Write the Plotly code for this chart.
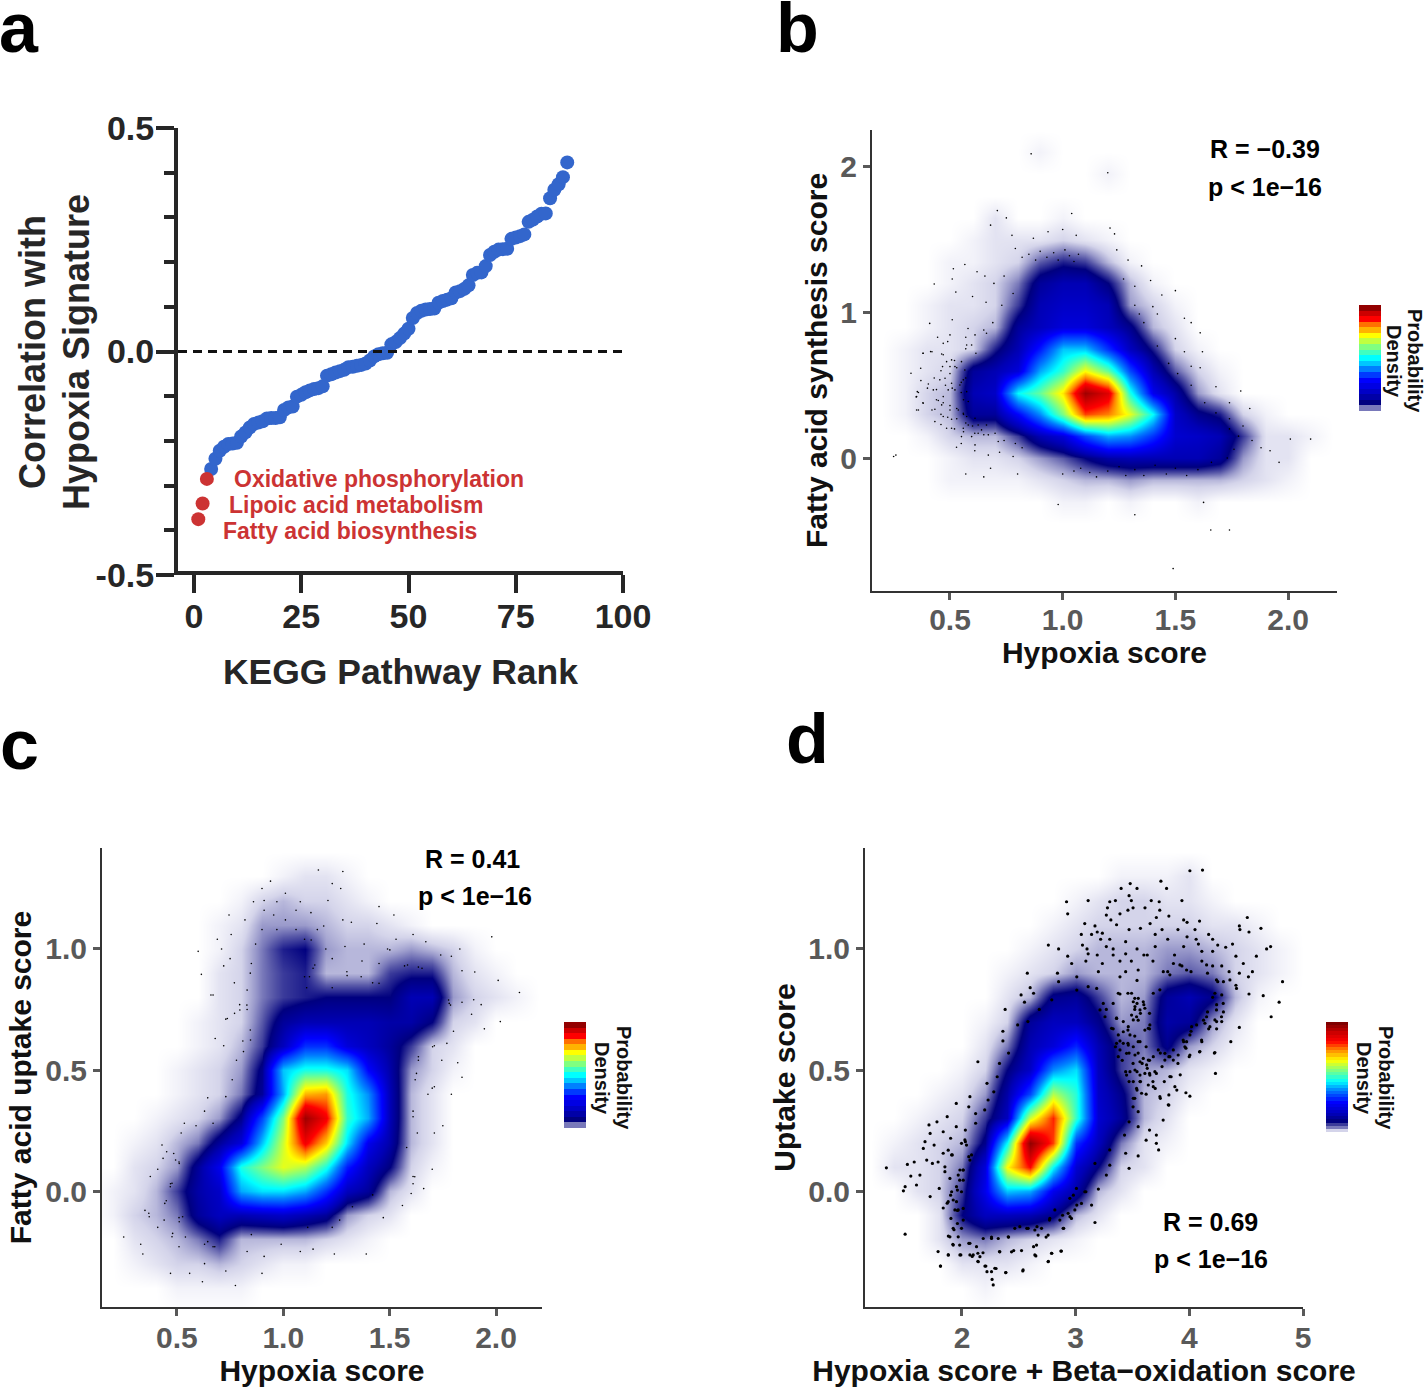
import plotly.graph_objects as go

W, H = 1427, 1387
FONT = "Liberation Sans"

# --------------------
# Panel a: pathway ranking
# --------------------
low_rank = [1, 2, 3]
low_corr = [-0.375, -0.34, -0.285]
rank = list(range(4, 88))
corr = [-0.263, -0.24, -0.222, -0.213, -0.207, -0.206, -0.204, -0.19, -0.181, -0.17, -0.162, -0.159,
        -0.156, -0.15, -0.149, -0.149, -0.147, -0.131, -0.125, -0.123, -0.101, -0.097, -0.091, -0.087,
        -0.084, -0.082, -0.078, -0.054, -0.051, -0.047, -0.044, -0.041, -0.035, -0.034, -0.032, -0.03,
        -0.027, -0.02, -0.011, -0.006, -0.004, -0.003, 0.016, 0.021, 0.03, 0.04, 0.051, 0.075, 0.086,
        0.091, 0.094, 0.095, 0.096, 0.109, 0.113, 0.116, 0.119, 0.132, 0.135, 0.14, 0.148, 0.171, 0.176,
        0.177, 0.191, 0.216, 0.223, 0.228, 0.229, 0.23, 0.252, 0.255, 0.258, 0.262, 0.29, 0.295, 0.302,
        0.308, 0.309, 0.343, 0.362, 0.374, 0.39, 0.423]
low_names = ["Fatty acid biosynthesis", "Lipoic acid metabolism", "Oxidative phosphorylation"]

# --------------------
# Panel b: density grid and stray cells
# --------------------
b_x = [0.2, 0.3, 0.4, 0.5, 0.6, 0.7, 0.8, 0.9, 1.0, 1.1, 1.2, 1.3, 1.4, 1.5, 1.6, 1.7, 1.8, 1.9, 2.0, 2.1]
b_y = [-0.6, -0.45, -0.3, -0.15, 0, 0.15, 0.3, 0.45, 0.6, 0.75, 0.9, 1.05, 1.2, 1.35, 1.5, 1.65, 1.8, 1.95, 2.1]
# rows run from the top of the plot down
b_density = [
    [0, 0, 0, 0, 0, 0, 0, 1, 0, 0, 0, 0, 0, 0, 0, 0, 0, 0, 0, 0],
    [0, 0, 0, 0, 0, 0, 0, 0, 0, 0, 1, 0, 0, 0, 0, 0, 0, 0, 0, 0],
    [0, 0, 0, 0, 0, 0, 0, 0, 0, 0, 0, 0, 0, 0, 0, 0, 0, 0, 0, 0],
    [0, 0, 0, 0, 0, 2, 0, 0, 1, 0, 0, 0, 0, 0, 0, 0, 0, 0, 0, 0],
    [0, 0, 0, 0, 1, 2, 2, 2, 3, 2, 1, 0, 0, 0, 0, 0, 0, 0, 0, 0],
    [0, 0, 0, 1, 1, 2, 3, 7, 9, 8, 4, 1, 0, 0, 0, 0, 0, 0, 0, 0],
    [0, 0, 0, 1, 2, 3, 6, 12, 14, 14, 10, 4, 1, 0, 0, 0, 0, 0, 0, 0],
    [0, 0, 1, 2, 2, 3, 8, 14, 16, 16, 14, 5, 3, 1, 0, 0, 0, 0, 0, 0],
    [0, 0, 1, 2, 3, 4, 12, 15, 18, 18, 15, 11, 4, 2, 0, 0, 0, 0, 0, 0],
    [0, 1, 2, 2, 3, 9, 14, 24, 38, 38, 26, 15, 9, 3, 1, 0, 0, 0, 0, 0],
    [0, 1, 2, 3, 12, 14, 18, 36, 46, 62, 50, 28, 14, 7, 3, 1, 0, 0, 0, 0],
    [0, 1, 3, 4, 14, 16, 42, 50, 64, 95, 85, 44, 20, 13, 5, 2, 0, 0, 0, 0],
    [0, 1, 3, 4, 12, 12, 22, 34, 52, 76, 72, 60, 42, 16, 11, 9, 3, 1, 0, 0],
    [0, 0, 1, 3, 4, 4, 8, 14, 18, 28, 36, 34, 26, 17, 16, 14, 8, 2, 2, 1],
    [0, 0, 0, 1, 2, 2, 3, 5, 7, 10, 13, 14, 14, 14, 14, 12, 5, 2, 2, 0],
    [0, 0, 0, 1, 1, 1, 1, 2, 3, 4, 4, 5, 4, 4, 4, 4, 3, 2, 1, 0],
    [0, 0, 0, 0, 0, 0, 0, 0, 1, 1, 0, 1, 0, 0, 1, 0, 0, 0, 0, 0],
    [0, 0, 0, 0, 0, 0, 0, 0, 0, 0, 0, 0, 0, 0, 0, 0, 0, 0, 0, 0],
    [0, 0, 0, 0, 0, 0, 0, 0, 0, 0, 0, 0, 0, 0, 0, 0, 0, 0, 0, 0],
]
b_dots_x = [0.86, 1.2, 0.71, 0.75, 0.68, 1.04, 1.21, 1.23, 0.775, 1.0, 1.06, 0.87, 0.935, 1.24, 0.79, 0.82, 0.85,
            0.88, 0.9, 0.93, 0.96, 0.98, 1.01, 1.03, 1.05, 1.07, 0.43, 0.515, 0.566, 0.51, 0.62, 0.655, 0.695,
            0.74, 0.526, 0.6, 0.66, 0.73, 0.78, 0.51, 0.58, 0.65, 0.69, 0.41, 0.445, 0.49, 0.57, 0.38, 0.42,
            0.47, 0.52, 0.57, 0.615, 0.43, 0.46, 0.5, 0.53, 0.55, 0.57, 0.36, 0.4, 0.44, 0.48, 0.51, 0.55, 0.56,
            0.35, 0.38, 0.44, 0.47, 0.5, 0.53, 0.56, 0.36, 0.42, 0.46, 0.49, 0.53, 0.57, 0.6, 0.46, 0.52, 0.56,
            0.61, 0.65, 0.7, 0.74, 0.79, 0.82, 0.55, 0.61, 0.67, 0.72, 0.78, 0.25, 0.26, 0.57, 0.65, 0.68, 0.8,
            1.0, 1.05, 1.08, 1.12, 1.15, 1.2, 1.25, 1.28, 1.32, 1.36, 1.41, 1.46, 1.5, 1.55, 1.6, 1.66, 1.73,
            1.76, 1.78, 1.74, 1.8, 1.84, 1.88, 1.92, 1.96, 2.01, 2.1, 0.98, 1.32, 1.625, 1.657, 1.74, 1.49, 1.29,
            1.35, 1.27, 1.32, 1.39, 1.44, 1.5, 1.32, 1.4, 1.34, 1.42, 1.36, 1.54, 1.57, 1.61, 1.42, 1.5, 1.54,
            1.62, 1.47, 1.57, 1.61, 1.51, 1.57, 1.68, 1.63, 1.79, 1.74, 1.83, 1.68, 1.74,
            0.327, 0.381, 0.414, 0.463, 0.485, 0.507, 0.522, 0.551, 0.566, 0.5, 0.467, 0.455, 0.478, 0.37, 0.371,
            0.404, 0.426, 0.355, 0.352, 0.507, 0.544, 0.559, 0.574, 0.522, 0.492, 0.47, 0.448, 0.463, 0.433, 0.352,
            0.381, 0.5, 0.537, 0.559, 0.581, 0.574, 0.47, 0.433, 0.507, 0.485, 0.507, 0.559, 0.581, 0.611, 0.625,
            0.64, 0.662, 0.596, 0.551, 0.625, 0.67, 0.529, 0.611, 0.714, 0.47, 0.5, 0.574, 0.611, 0.662, 0.596]
b_dots_y = [2.09, 1.96, 1.7, 1.65, 1.6, 1.68, 1.58, 1.54, 1.53, 1.57, 1.53, 1.51, 1.555, 1.43, 1.44, 1.38, 1.4,
            1.36, 1.42, 1.38, 1.41, 1.36, 1.43, 1.39, 1.35, 1.4, 1.196, 1.3, 1.33, 1.23, 1.28, 1.25, 1.2, 1.25,
            1.14, 1.11, 1.07, 1.05, 1.13, 0.95, 0.89, 0.88, 0.93, 0.925, 0.83, 0.8, 0.83, 0.72, 0.73, 0.71,
            0.67, 0.75, 0.72, 0.55, 0.6, 0.58, 0.62, 0.52, 0.55, 0.45, 0.48, 0.47, 0.5, 0.48, 0.45, 0.4, 0.42,
            0.38, 0.4, 0.38, 0.36, 0.34, 0.3, 0.33, 0.33, 0.3, 0.28, 0.27, 0.24, 0.22, 0.23, 0.2, 0.18, 0.17,
            0.16, 0.17, 0.12, 0.1, 0.07, 0.1, 0.05, 0.02, 0.04, 0.01, 0.01, 0.02, -0.11, -0.13, -0.07, -0.11,
            -0.11, -0.09, -0.07, -0.1, -0.13, -0.09, -0.06, -0.12, -0.08, -0.12, -0.05, -0.11, -0.07, -0.12,
            -0.08, -0.03, 0.0, 0.06, 0.15, 0.2, 0.22, 0.12, 0.07, 0.05, -0.03, 0.13, 0.13, -0.32, -0.39, -0.305,
            -0.495, -0.495, -0.76, 1.36, 1.32, 1.23, 1.18, 1.22, 1.12, 1.15, 1.05, 1.04, 0.99, 0.99, 0.93, 0.96,
            0.93, 0.86, 0.77, 0.82, 0.73, 0.73, 0.65, 0.63, 0.62, 0.58, 0.5, 0.49, 0.38, 0.46, 0.38, 0.34, 0.31,
            0.27,
            0.582, 0.72, 0.731, 0.715, 0.662, 0.674, 0.628, 0.662, 0.605, 0.628, 0.628, 0.537, 0.548, 0.617, 0.532,
            0.509, 0.468, 0.456, 0.422, 0.514, 0.502, 0.537, 0.456, 0.468, 0.468, 0.422, 0.395, 0.365, 0.335, 0.33,
            0.376, 0.33, 0.33, 0.307, 0.388, 0.285, 0.285, 0.25, 0.266, 0.204, 0.204, 0.204, 0.227, 0.273, 0.227,
            0.193, 0.227, 0.147, 0.147, 0.17, 0.159, 0.074, 0.09, 0.113, 0.788, 0.846, 0.777, 0.846, 0.857, 0.777]

# --------------------
# Panel c
# --------------------
c_x = [0.2, 0.3, 0.4, 0.5, 0.6, 0.7, 0.8, 0.9, 1.0, 1.1, 1.2, 1.3, 1.4, 1.5, 1.6, 1.7, 1.8, 1.9, 2.0, 2.1]
c_y = [-0.4, -0.3, -0.2, -0.1, 0, 0.1, 0.2, 0.3, 0.4, 0.5, 0.6, 0.7, 0.8, 0.9, 1.0, 1.1, 1.2, 1.3]
c_density = [
    [0, 0, 0, 0, 0, 0, 0, 0, 1, 2, 2, 1, 0, 0, 0, 0, 0, 0, 0, 0],
    [0, 0, 0, 0, 0, 0, 1, 3, 4, 3, 3, 2, 1, 0, 0, 0, 0, 0, 0, 0],
    [0, 0, 0, 0, 0, 1, 2, 5, 5, 5, 4, 3, 3, 2, 1, 0, 0, 0, 0, 0],
    [0, 0, 0, 0, 0, 1, 3, 6, 9, 10, 5, 4, 4, 4, 5, 4, 3, 1, 0, 0],
    [0, 0, 0, 0, 0, 2, 3, 6, 8, 9, 4, 4, 4, 8, 9, 9, 4, 2, 1, 0],
    [0, 0, 0, 0, 0, 2, 3, 6, 8, 9, 10, 10, 10, 10, 14, 14, 5, 3, 2, 1],
    [0, 0, 0, 0, 1, 2, 3, 7, 12, 14, 14, 14, 14, 13, 13, 10, 3, 2, 0, 0],
    [0, 0, 0, 0, 1, 2, 4, 8, 15, 26, 26, 18, 15, 12, 8, 3, 2, 0, 0, 0],
    [0, 0, 0, 1, 2, 3, 5, 11, 38, 44, 44, 40, 22, 13, 5, 3, 1, 0, 0, 0],
    [0, 0, 0, 1, 2, 3, 6, 12, 36, 68, 70, 44, 34, 14, 4, 2, 0, 0, 0, 0],
    [0, 0, 1, 2, 3, 5, 11, 28, 52, 95, 82, 46, 36, 14, 4, 2, 0, 0, 0, 0],
    [0, 1, 2, 4, 6, 12, 18, 38, 58, 82, 66, 40, 20, 13, 4, 2, 0, 0, 0, 0],
    [0, 2, 3, 5, 12, 20, 44, 52, 60, 56, 44, 24, 15, 10, 3, 1, 0, 0, 0, 0],
    [1, 2, 4, 8, 13, 16, 36, 40, 40, 36, 26, 15, 12, 4, 2, 0, 0, 0, 0, 0],
    [1, 3, 4, 6, 12, 15, 14, 15, 16, 14, 12, 5, 3, 2, 0, 0, 0, 0, 0, 0],
    [0, 2, 3, 4, 6, 9, 4, 4, 4, 4, 3, 2, 1, 0, 0, 0, 0, 0, 0, 0],
    [0, 1, 2, 3, 3, 4, 3, 2, 1, 1, 0, 0, 0, 0, 0, 0, 0, 0, 0, 0],
    [0, 0, 0, 1, 1, 1, 1, 0, 0, 0, 0, 0, 0, 0, 0, 0, 0, 0, 0, 0],
]
c_dots_x = [1.165, 1.28, 0.94, 1.23, 1.27, 0.9, 1.01, 1.21, 0.97, 0.91, 0.86, 1.08, 1.13, 1.06, 1.45, 0.91, 0.955,
            0.745, 0.82, 1.01, 1.28, 1.32, 1.52, 1.44, 0.9, 0.97, 1.06, 1.16, 1.19, 1.67, 1.61, 1.98, 1.83, 0.69,
            0.755, 0.6, 0.71, 0.87, 1.1, 1.2, 1.29, 1.38, 1.49, 1.53, 1.74, 1.79, 0.75, 0.85, 0.72, 0.615, 1.14,
            1.23, 1.37, 1.45, 1.57, 1.635, 1.84, 1.9, 0.845, 0.77, 1.1, 1.3, 1.42, 0.66, 0.83, 1.11, 1.23, 1.78,
            1.84, 1.895, 2.01, 2.11, 1.93, 0.795, 0.83, 1.885, 2.02, 1.945, 0.73, 0.68, 0.81, 0.845, 1.8, 1.71,
            0.72, 0.78, 1.635, 1.745, 1.82, 1.84, 0.76, 0.73, 0.645, 1.7, 1.62, 1.68, 1.79, 1.61, 1.75, 0.63, 0.67,
            0.59, 0.535, 0.52, 1.63, 1.71, 1.58, 0.43, 0.485, 0.51, 0.435, 0.41, 1.61, 1.7, 1.66, 1.61, 0.47,
            0.375, 0.45, 0.35, 0.37, 0.44, 0.51, 0.25, 0.33, 0.34, 0.41, 0.48, 0.54, 0.51, 0.63, 0.67, 0.47, 0.62,
            0.56, 0.775, 0.73, 0.9, 0.63, 0.83, 0.91, 0.99, 0.85, 1.115, 1.23, 1.14, 1.08, 1.24, 1.39, 1.265,
            1.325, 1.42, 1.56, 1.47,
            0.829, 0.796, 0.846, 0.813, 0.771, 0.737, 0.67, 0.511, 0.494, 0.452, 0.477, 0.469, 0.368, 0.443, 0.527,
            0.511, 0.477, 0.645, 0.678, 1.635, 1.702, 1.769, 1.626, 1.71, 1.61, 1.618, 1.601, 1.131, 1.148, 1.123,
            1.299, 1.366, 1.45, 1.501, 1.584, 1.652, 1.777, 1.786]
c_dots_y = [1.326, 1.32, 1.28, 1.27, 1.25, 1.25, 1.23, 1.2, 1.195, 1.2, 1.195, 1.195, 1.15, 1.16, 1.175, 1.16, 1.14,
            1.14, 1.12, 1.12, 1.12, 1.11, 1.14, 1.105, 1.08, 1.08, 1.08, 1.08, 1.095, 1.03, 1.06, 1.05, 1.0, 1.04,
            1.06, 0.99, 1.0, 1.02, 1.04, 1.0, 1.01, 1.02, 1.0, 1.04, 0.975, 0.97, 0.96, 0.94, 0.93, 0.895, 0.92,
            0.96, 0.95, 0.94, 0.93, 0.925, 0.91, 0.905, 0.9, 0.86, 0.885, 0.89, 0.86, 0.81, 0.83, 0.84, 0.84,
            0.775, 0.78, 0.79, 0.87, 0.82, 0.77, 0.77, 0.75, 0.73, 0.7, 0.67, 0.71, 0.63, 0.62, 0.665, 0.66, 0.6,
            0.6, 0.54, 0.54, 0.54, 0.53, 0.47, 0.46, 0.39, 0.385, 0.425, 0.46, 0.4, 0.4, 0.33, 0.27, 0.33, 0.28,
            0.27, 0.28, 0.24, 0.24, 0.24, 0.18, 0.19, 0.155, 0.12, 0.135, 0.09, 0.06, 0.09, 0.01, 0.03, 0.03,
            0.06, -0.04, -0.08, -0.106, -0.12, -0.11, -0.19, -0.22, -0.26, -0.15, -0.175, -0.19, -0.23, -0.22,
            -0.23, -0.34, -0.375, -0.34, -0.39, -0.33, -0.34, -0.3, -0.25, -0.27, -0.22, -0.18, -0.15, -0.15,
            -0.24, -0.25, -0.26, -0.26, -0.12, -0.065, -0.016, -0.06, -0.11,
            0.768, 0.748, 0.624, 0.576, 0.734, 0.713, 0.81, 0.114, 0.128, 0.162, 0.032, 0.018, -0.092, -0.051, -0.106,
            -0.127, -0.189, -0.209, -0.23, 0.555, 0.596, 0.61, 0.486, 0.431, 0.307, 0.059, -0.01, 1.037, 0.934, 0.885,
            0.906, 0.885, 0.858, 0.996, 0.934, 0.92, 0.789, 0.768]

# --------------------
# Panel d
# --------------------
d_x = [1.4, 1.6, 1.8, 2.0, 2.2, 2.4, 2.6, 2.8, 3.0, 3.2, 3.4, 3.6, 3.8, 4.0, 4.2, 4.4, 4.6, 4.8]
d_y = [-0.4, -0.3, -0.2, -0.1, 0, 0.1, 0.2, 0.3, 0.4, 0.5, 0.6, 0.7, 0.8, 0.9, 1.0, 1.1, 1.2, 1.3]
d_density = [
    [0, 0, 0, 0, 0, 0, 0, 0, 0, 0, 1, 1, 1, 2, 0, 0, 0, 0],
    [0, 0, 0, 0, 0, 0, 0, 0, 1, 2, 3, 3, 2, 2, 1, 0, 0, 0],
    [0, 0, 0, 0, 0, 0, 0, 1, 2, 3, 3, 3, 3, 3, 2, 2, 1, 0],
    [0, 0, 0, 0, 0, 0, 1, 2, 3, 4, 4, 4, 5, 5, 4, 3, 2, 1],
    [0, 0, 0, 0, 0, 1, 2, 3, 5, 4, 4, 4, 6, 7, 6, 3, 2, 1],
    [0, 0, 0, 0, 0, 2, 4, 11, 12, 8, 4, 5, 12, 14, 11, 4, 1, 0],
    [0, 0, 0, 0, 1, 3, 12, 15, 15, 11, 5, 6, 13, 12, 5, 2, 0, 0],
    [0, 0, 0, 0, 2, 6, 14, 18, 25, 14, 8, 6, 11, 5, 3, 1, 0, 0],
    [0, 0, 0, 1, 3, 10, 16, 34, 40, 15, 8, 5, 4, 2, 1, 0, 0, 0],
    [0, 0, 1, 2, 5, 13, 28, 56, 45, 16, 11, 4, 3, 1, 0, 0, 0, 0],
    [0, 1, 2, 3, 8, 15, 58, 78, 46, 17, 12, 4, 2, 0, 0, 0, 0, 0],
    [1, 2, 3, 4, 11, 42, 97, 76, 26, 15, 6, 2, 1, 0, 0, 0, 0, 0],
    [2, 2, 3, 6, 18, 62, 80, 42, 17, 10, 3, 2, 0, 0, 0, 0, 0, 0],
    [0, 2, 3, 8, 20, 38, 36, 20, 13, 4, 2, 0, 0, 0, 0, 0, 0, 0],
    [0, 0, 2, 10, 15, 15, 14, 11, 4, 2, 0, 0, 0, 0, 0, 0, 0, 0],
    [0, 0, 2, 5, 6, 4, 3, 2, 1, 0, 0, 0, 0, 0, 0, 0, 0, 0],
    [0, 0, 0, 2, 2, 2, 1, 0, 0, 0, 0, 0, 0, 0, 0, 0, 0, 0],
    [0, 0, 0, 0, 1, 0, 0, 0, 0, 0, 0, 0, 0, 0, 0, 0, 0, 0],
]
d_dots = [
    (4.005, 1.323), (4.116, 1.326), (3.48, 1.27), (3.75, 1.28), (3.4, 1.25), (3.54, 1.25), (3.8, 1.25), (3.47, 1.22),
    (2.92, 1.195), (3.11, 1.2), (3.3, 1.195), (3.35, 1.2), (3.49, 1.2), (3.665, 1.2), (3.735, 1.195), (3.935, 1.2),
    (3.28, 1.17), (3.46, 1.16), (3.505, 1.17), (3.61, 1.17), (3.74, 1.16), (2.93, 1.145), (3.27, 1.14), (3.39, 1.145),
    (3.71, 1.13), (3.82, 1.136), (3.08, 1.105), (3.17, 1.095), (3.31, 1.12), (3.36, 1.1), (3.655, 1.105), (3.95, 1.12),
    (3.98, 1.11), (4.09, 1.115), (4.51, 1.13), (3.19, 1.07), (3.05, 1.06), (3.14, 1.06), (3.235, 1.065), (3.47, 1.08),
    (3.57, 1.085), (3.7, 1.06), (3.76, 1.08), (3.9, 1.08), (4.05, 1.08), (4.44, 1.095), (4.525, 1.07), (4.63, 1.085),
    (4.445, 1.08), (3.22, 1.04), (3.3, 1.04), (3.44, 1.03), (3.81, 1.04), (3.98, 1.05), (4.06, 1.04), (4.17, 1.06),
    (4.205, 1.04), (3.06, 1.016), (3.1, 1.0), (2.76, 1.016), (3.27, 1.01), (3.33, 1.0), (3.54, 1.0), (3.6, 0.975),
    (3.63, 0.975), (3.7, 1.01), (3.95, 1.01), (4.08, 1.02), (4.25, 1.016), (4.32, 1.007), (4.38, 1.02), (4.68, 1.0),
    (4.715, 1.01), (2.85, 1.0), (2.93, 0.97), (3.11, 0.98), (3.19, 0.975), (3.33, 0.975), (3.44, 0.98), (3.87, 0.975),
    (4.11, 0.99), (4.205, 0.99), (4.41, 0.97), (4.59, 0.97), (2.965, 0.94), (3.09, 0.95), (3.235, 0.94), (3.39, 0.95),
    (3.49, 0.95), (3.68, 0.95), (3.86, 0.94), (3.935, 0.93), (4.11, 0.95), (4.205, 0.93), (4.285, 0.93), (4.475, 0.94),
    (4.555, 0.906), (2.84, 0.9), (2.575, 0.9), (3.01, 0.885), (3.2, 0.906), (3.44, 0.906), (3.55, 0.913), (3.81, 0.906),
    (4.015, 0.906), (4.16, 0.9), (4.35, 0.906), (4.44, 0.9), (4.52, 0.885), (2.85, 0.865), (2.6, 0.84), (3.11, 0.844),
    (3.39, 0.885), (3.54, 0.87), (4.25, 0.865), (4.3, 0.865), (4.41, 0.85), (4.82, 0.865), (2.63, 0.817), (2.52, 0.81),
    (3.01, 0.83), (3.39, 0.814), (3.46, 0.817), (3.52, 0.796), (4.205, 0.8), (4.285, 0.81), (4.525, 0.814), (4.65, 0.807),
    (2.79, 0.79), (2.55, 0.78), (3.33, 0.775), (3.54, 0.775), (3.6, 0.77), (4.79, 0.78), (4.24, 0.77), (2.38, 0.75),
    (2.68, 0.75), (3.27, 0.75), (3.52, 0.75), (3.57, 0.734), (3.65, 0.734), (4.16, 0.74), (4.3, 0.74), (4.72, 0.72),
    (2.58, 0.7), (3.36, 0.713), (3.55, 0.706), (3.65, 0.67), (4.125, 0.706), (4.24, 0.7), (4.285, 0.7), (4.44, 0.676),
    (2.49, 0.686), (2.36, 0.66), (3.33, 0.67), (3.46, 0.665), (3.52, 0.64), (4.015, 0.66), (4.17, 0.67), (4.24, 0.67),
    (2.36, 0.62), (3.39, 0.62), (3.46, 0.61), (3.55, 0.617), (3.62, 0.596), (3.95, 0.617), (4.11, 0.617), (4.365, 0.617),
    (2.14, 0.534), (2.41, 0.57), (3.35, 0.596), (3.47, 0.57), (3.55, 0.57), (3.65, 0.54), (3.745, 0.57), (3.82, 0.555),
    (3.97, 0.59), (4.22, 0.57), (4.09, 0.575), (2.33, 0.527), (3.41, 0.54), (3.505, 0.527), (3.585, 0.527), (3.63, 0.507),
    (3.76, 0.514), (3.9, 0.527), (3.999, 0.555), (2.31, 0.472), (3.44, 0.493), (3.54, 0.493), (3.65, 0.486), (3.71, 0.486),
    (3.92, 0.48), (4.23, 0.486), (2.22, 0.445), (3.47, 0.452), (3.57, 0.452), (3.68, 0.452), (3.78, 0.452), (3.84, 0.472),
    (2.07, 0.39), (2.28, 0.41), (3.54, 0.417), (3.62, 0.4), (3.7, 0.424), (3.89, 0.417), (3.82, 0.397), (3.97, 0.406),
    (4.005, 0.392), (1.95, 0.362), (2.23, 0.376), (2.06, 0.348), (3.52, 0.383), (3.745, 0.383), (3.82, 0.355), (1.87, 0.307),
    (2.12, 0.32), (2.2, 0.335), (3.505, 0.348), (3.55, 0.328), (3.77, 0.293), (1.71, 0.273), (1.78, 0.286), (1.95, 0.266),
    (2.03, 0.252), (2.12, 0.28), (3.47, 0.286), (3.55, 0.266), (3.65, 0.252), (3.71, 0.231), (1.835, 0.245), (1.9, 0.218),
    (1.72, 0.238), (2.03, 0.204), (3.43, 0.231), (3.62, 0.21), (3.71, 0.197), (1.675, 0.204), (1.755, 0.19), (1.66, 0.176),
    (1.835, 0.156), (1.915, 0.149), (2.06, 0.142), (3.73, 0.17), (3.44, 0.156), (3.55, 0.145), (3.3, 0.17), (1.58, 0.12),
    (1.52, 0.11), (1.335, 0.096), (1.69, 0.128), (1.74, 0.114), (1.85, 0.1), (1.79, 0.12), (2.01, 0.087), (3.47, 0.094),
    (3.3, 0.107), (3.17, 0.114), (1.63, 0.066), (1.55, 0.062), (1.6, 0.025), (1.5, 0.018), (1.485, 0.001), (1.8, 0.011),
    (1.98, 0.045), (3.27, 0.066), (3.09, -0.003), (3.2, 0.008), (1.72, -0.023), (1.9, -0.017), (1.96, 0.004), (1.87, -0.05),
    (1.835, -0.07), (1.96, -0.08), (2.98, -0.017), (3.01, -0.058), (3.14, -0.058), (1.5, -0.178), (1.96, -0.134), (1.88, -0.186),
    (1.93, -0.16), (3.17, -0.13), (2.885, -0.1), (2.95, -0.106), (2.77, -0.12), (2.66, -0.147), (2.57, -0.154), (2.41, -0.19),
    (2.26, -0.19), (2.74, -0.19), (2.895, -0.154), (1.92, -0.22), (2.06, -0.216), (1.98, -0.223), (2.33, -0.25), (2.455, -0.246),
    (2.63, -0.23), (1.79, -0.25), (1.88, -0.264), (1.99, -0.264), (2.07, -0.264), (2.14, -0.257), (2.185, -0.255), (2.79, -0.257),
    (2.87, -0.248), (2.65, -0.268), (1.81, -0.31), (2.09, -0.27), (2.14, -0.29), (2.76, -0.29), (2.21, -0.31), (2.3, -0.32),
    (2.22, -0.333), (2.385, -0.337), (2.535, -0.33), (2.265, -0.365), (2.275, -0.388),
    # cluster between the two blobs
    (3.507, 0.782), (3.551, 0.796), (3.595, 0.782), (3.522, 0.762), (3.566, 0.748), (3.492, 0.727), (3.609, 0.755), (3.536, 0.72),
    (3.507, 0.707), (3.639, 0.672), (3.653, 0.686), (3.609, 0.665), (3.463, 0.679), (3.419, 0.658), (3.375, 0.645), (3.478, 0.645),
    (3.36, 0.61), (3.419, 0.61), (3.463, 0.603), (3.507, 0.596), (3.566, 0.617), (3.39, 0.583), (3.375, 0.555), (3.448, 0.569),
    (3.522, 0.562), (3.595, 0.548), (3.639, 0.541), (3.566, 0.534), (3.624, 0.521), (3.683, 0.555), (3.727, 0.583), (3.785, 0.569),
    (3.829, 0.555), (3.859, 0.541), (3.478, 0.493), (3.522, 0.5), (3.566, 0.479), (3.609, 0.486), (3.653, 0.479), (3.697, 0.493),
    (3.448, 0.479), (3.507, 0.452), (3.566, 0.452), (3.639, 0.438), (3.683, 0.431), (3.536, 0.424), (3.58, 0.404), (3.507, 0.383),
    (3.741, 0.39), (3.815, 0.356), (3.829, 0.473), (3.873, 0.431), (3.785, 0.541), (3.946, 0.624), (3.976, 0.617), (3.961, 0.596),
    (4.005, 0.645), (4.108, 0.624), (4.093, 0.576), (4.225, 0.572), (3.859, 0.583), (3.902, 0.562), (4.005, 0.562), (4.137, 0.693),
    (4.181, 0.679), (4.225, 0.707), (4.283, 0.72), (4.239, 0.748), (4.298, 0.775), (4.225, 0.817), (4.152, 0.72), (4.064, 0.686),
    (4.02, 0.679), (3.243, 0.775), (3.185, 0.837), (3.258, 0.72), (3.214, 0.748), (3.36, 0.714), (3.419, 0.7), (3.316, 0.672),
    (3.375, 0.817), (3.492, 0.817), (3.683, 0.817), (3.741, 0.831), (3.771, 0.906), (3.829, 0.893), (3.917, 0.934), (3.976, 0.913),
    (4.152, 0.934), (4.239, 0.872), (4.357, 0.872), (4.415, 0.837),
    # fringe under the main blob
    (2.026, 0.211), (1.996, 0.197), (2.04, 0.19), (1.879, 0.169), (1.909, 0.149), (2.084, 0.149), (2.07, 0.128), (1.982, 0.087),
    (2.011, 0.087), (1.85, 0.08), (1.967, 0.066), (2.011, 0.045), (1.894, 0.052), (1.952, 0.018), (1.909, -0.003), (1.996, -0.003),
    (1.923, -0.037), (1.952, -0.044), (1.879, -0.044), (2.011, -0.072), (1.967, -0.078), (1.938, -0.078), (1.903, -0.113), (2.011, -0.12),
    (1.996, -0.154), (1.923, -0.154), (1.894, -0.189), (1.967, -0.189), (2.07, -0.216), (1.923, -0.223), (2.128, -0.23), (2.187, -0.196),
    (2.26, -0.196), (2.319, -0.196), (2.407, -0.189), (2.465, -0.154), (2.509, -0.147), (2.582, -0.154), (2.641, -0.161), (2.7, -0.154),
    (2.67, -0.182), (2.656, -0.223), (2.758, -0.182), (2.773, -0.113), (2.817, -0.078), (2.861, -0.12), (2.934, -0.092), (2.963, -0.113),
    (2.949, -0.03), (3.007, 0.011), (3.081, -0.003), (3.051, -0.051), (2.993, -0.078), (2.89, -0.154), (2.333, -0.251), (2.436, -0.251),
    (2.524, -0.246), (2.788, -0.257), (2.875, -0.248), (2.641, -0.264), (2.758, -0.292), (2.158, -0.271), (1.982, -0.264), (1.879, -0.264),
    (2.099, -0.264), (2.143, -0.292), (2.202, -0.31), (2.289, -0.319), (2.26, -0.333), (2.386, -0.337), (2.538, -0.326), (1.812, -0.31),
]

# colour key steps, bottom to top
key_steps = [6, 10, 13, 16, 19, 22, 27, 33, 38, 42, 47, 52, 57, 62, 68, 73, 80, 88, 97]
key_steps_fine = [3, 6, 8, 10, 12, 14, 16, 18, 20, 22, 25, 28, 31, 34, 37, 40, 43, 46, 49, 52, 55, 58, 61, 64,
                  67, 70, 73, 76, 79, 82, 85, 88, 92, 96, 100]

density_scale = [
    [0.0, "#ffffff"], [0.01, "#f2f2f9"], [0.03, "#d4d4ea"], [0.05, "#9a9acb"], [0.07, "#5858a8"],
    [0.10, "#00007f"], [0.14, "#0000b4"], [0.22, "#0000ff"], [0.33, "#0080ff"], [0.42, "#00ffff"],
    [0.52, "#80ff80"], [0.62, "#ffff00"], [0.72, "#ff8000"], [0.80, "#ff0000"], [0.90, "#c00000"],
    [1.0, "#7f0000"],
]


def dom_x(left, right):
    return [left / W, right / W]


def dom_y(top, bottom):
    return [1 - bottom / H, 1 - top / H]


def note(px, py, text, size, color="black", angle=0, anchor="center", bold=True):
    fig.add_annotation(
        x=px / W, y=1 - py / H, xref="paper", yref="paper", text=f"<b>{text}</b>" if bold else text,
        showarrow=False, textangle=angle, xanchor=anchor, yanchor="middle",
        font=dict(family=FONT, size=size, color=color),
    )


def density_axis(dom_h, dom_v, xr, yr, xticks, xlabels, yticks, ylabels, xtitle, ytitle, xshift, ypad):
    common = dict(showgrid=False, zeroline=False, showline=True, linecolor="#333333", linewidth=2,
                  ticks="outside", tickcolor="#595959", tickwidth=3, ticklen=7, automargin=False,
                  tickfont=dict(family=FONT, size=30, color="#595959", weight="bold"))
    xa = dict(domain=dom_h, range=xr, tickvals=xticks, ticktext=xlabels, ticklabelstandoff=xshift, **common,
              title=dict(text=f"<b>{xtitle}</b>", standoff=2, font=dict(family=FONT, size=30, color="#111111")))
    ya = dict(domain=dom_v, range=yr, tickvals=yticks, ticktext=ylabels, **common,
              title=dict(text=f"<b>{ytitle}</b>", standoff=ypad, font=dict(family=FONT, size=30, color="#111111")))
    return xa, ya


def add_density(name, xs, ys, rows, dots_x, dots_y, dot_size):
    # zero border round the grid so the smoothed image fades out instead of stopping at an edge
    dx, dy = xs[1] - xs[0], ys[1] - ys[0]
    grid_x = [xs[0] - dx] + xs + [xs[-1] + dx]
    grid_y = [ys[0] - dy] + ys + [ys[-1] + dy]
    blank = [0] * len(grid_x)
    grid = [blank] + [[0] + r + [0] for r in rows[::-1]] + [blank]
    fig.add_trace(go.Heatmap(x=grid_x, y=grid_y, z=grid, coloraxis="coloraxis", zsmooth="best",
                             xaxis="x" + name, yaxis="y" + name))
    fig.add_trace(go.Scatter(x=dots_x, y=dots_y, mode="markers", xaxis="x" + name, yaxis="y" + name,
                             marker=dict(color="black", size=dot_size)))


def add_key(name, steps):
    fig.add_trace(go.Heatmap(z=[[s] for s in steps], x=[0], y=list(range(len(steps))), coloraxis="coloraxis",
                             xaxis="x" + name, yaxis="y" + name))


fig = go.Figure()

# panel a
fig.add_trace(go.Scatter(x=rank, y=corr, mode="markers", xaxis="x", yaxis="y",
                         marker=dict(color="#3366cc", size=14), cliponaxis=False))
fig.add_trace(go.Scatter(x=low_rank, y=low_corr, mode="markers", xaxis="x", yaxis="y",
                         marker=dict(color="#cc3333", size=14), cliponaxis=False))
fig.add_shape(type="line", x0=-3.73, x1=100, y0=0, y1=0, xref="x", yref="y",
              line=dict(color="#111111", width=3, dash="9px,6px"))

add_density("2", b_x, b_y, b_density, b_dots_x, b_dots_y, 1.6)
add_density("3", c_x, c_y, c_density, c_dots_x, c_dots_y, 1.6)
add_density("4", d_x, d_y, d_density, [p[0] for p in d_dots], [p[1] for p in d_dots], 3.2)
add_key("5", key_steps)
add_key("6", key_steps)
add_key("7", key_steps_fine)

dark = "#262626"
xa = dict(domain=dom_x(178, 623), range=[-3.73, 100], tickvals=[0, 25, 50, 75, 100], showgrid=False, zeroline=False,
          anchor="free", position=1 - 573 / H,
          showline=True, linecolor=dark, linewidth=4, ticks="outside", tickcolor=dark, tickwidth=4, ticklen=18,
          automargin=False, ticklabelstandoff=-6, tickfont=dict(family=FONT, size=34, color=dark, weight="bold"),
          title=dict(text="<b>KEGG Pathway Rank</b>", standoff=24, font=dict(family=FONT, size=35.5, color=dark)))
ya = dict(domain=dom_y(128, 575), range=[-0.5, 0.5], tickvals=[-0.5, 0, 0.5], ticktext=["-0.5", "0.0", "0.5"],
          showgrid=False, zeroline=False, showline=True, linecolor=dark, linewidth=4, ticks="outside", tickcolor=dark,
          tickwidth=4, ticklen=18, automargin=False, ticklabelstandoff=-5,
          tickfont=dict(family=FONT, size=34, color=dark, weight="bold"),
          minor=dict(tickvals=[-0.4, -0.3, -0.2, -0.1, 0.1, 0.2, 0.3, 0.4], ticks="outside", ticklen=10, tickwidth=4,
                     tickcolor=dark))

xb, yb = density_axis(dom_x(872, 1337), dom_y(130, 591), [0.154, 2.217], [-0.914, 2.254],
                      [0.5, 1.0, 1.5, 2.0], ["0.5", "1.0", "1.5", "2.0"], [0, 1, 2], ["0", "1", "2"],
                      "Hypoxia score", "Fatty acid synthesis score", -6, 4)
xc, yc = density_axis(dom_x(102, 542), dom_y(848, 1307), [0.148, 2.216], [-0.479, 1.417],
                      [0.5, 1.0, 1.5, 2.0], ["0.5", "1.0", "1.5", "2.0"], [0, 0.5, 1], ["0.0", "0.5", "1.0"],
                      "Hypoxia score", "Fatty acid uptake score", -4, 5)
xd, yd = density_axis(dom_x(865, 1303), dom_y(848, 1307), [1.147, 5], [-0.479, 1.417],
                      [2, 3, 4, 5], ["2", "3", "4", "5"], [0, 0.5, 1], ["0.0", "0.5", "1.0"],
                      "Hypoxia score + Beta\u2212oxidation score", "Uptake score", -4, 4)

hidden = dict(visible=False, showgrid=False, zeroline=False, automargin=False)

fig.update_layout(
    width=W, height=H, paper_bgcolor="white", plot_bgcolor="white", showlegend=False,
    margin=dict(l=0, r=0, t=0, b=0, autoexpand=False), font=dict(family=FONT),
    coloraxis=dict(colorscale=density_scale, cmin=0, cmax=100, showscale=False),
    xaxis=xa, yaxis=ya,
    xaxis2=dict(xb, anchor="y2"), yaxis2=dict(yb, anchor="x2"),
    xaxis3=dict(xc, anchor="y3"), yaxis3=dict(yc, anchor="x3"),
    xaxis4=dict(xd, anchor="y4"), yaxis4=dict(yd, anchor="x4"),
    xaxis5=dict(hidden, domain=dom_x(1359, 1381), anchor="y5"), yaxis5=dict(hidden, domain=dom_y(305, 411), anchor="x5"),
    xaxis6=dict(hidden, domain=dom_x(564, 586), anchor="y6"), yaxis6=dict(hidden, domain=dom_y(1022, 1128), anchor="x6"),
    xaxis7=dict(hidden, domain=dom_x(1326, 1348), anchor="y7"), yaxis7=dict(hidden, domain=dom_y(1022, 1132), anchor="x7"),
)

# panel letters
note(19, 28, "a", 70)
note(797, 28, "b", 70)
note(19, 745, "c", 70)
note(807, 739, "d", 70)

# panel a y title, two lines set closer than an axis title allows
note(32, 352, "Correlation with", 36, dark, angle=-90)
note(76, 352, "Hypoxia Signature", 36, dark, angle=-90)

# pathway names
note(232, 479, low_names[2], 23, "#cc3333", anchor="left")
note(227, 505, low_names[1], 23, "#cc3333", anchor="left")
note(221, 531, low_names[0], 23, "#cc3333", anchor="left")

# stats
note(1265, 149, "R = \u22120.39", 25)
note(1265, 187, "p &lt; 1e\u221216", 25)
note(472, 859, "R = 0.41", 25)
note(475, 896, "p &lt; 1e\u221216", 25)
note(1210, 1222, "R = 0.69", 25)
note(1211, 1259, "p &lt; 1e\u221216", 25)

# key captions
for px_d, px_p, py in [(1394, 1415, 361), (602, 624, 1078), (1364, 1386, 1078)]:
    note(px_d, py, "Density", 20, "#111111", angle=90)
    note(px_p, py, "Probability", 20, "#111111", angle=90)

# the page keeps its default body margin otherwise, which pushes the figure off the window
fig.write_html("out.html", config={"displayModeBar": False},
               post_script="document.body.style.margin = '0';")
